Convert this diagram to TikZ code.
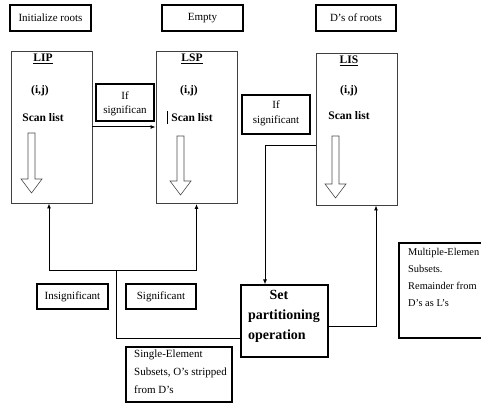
\documentclass[tikz,border=0pt]{standalone}
\usepackage{fontspec}
\setmainfont{Liberation Serif}
\usetikzlibrary{arrows.meta}
\begin{document}
\begin{tikzpicture}[x=1pt,y=-1pt,
  lbl/.style={draw,line width=1.1pt,inner sep=0,font=\fontsize{11}{13}\selectfont},
  lst/.style={draw=black!75,line width=0.8pt,inner sep=0,minimum width=81pt,minimum height=152pt},
  txt/.style={inner sep=0,anchor=base,font=\fontsize{11}{13}\selectfont},
  btxt/.style={inner sep=0,anchor=base,font=\fontsize{11.5}{13}\selectfont\bfseries},
  conn/.style={line width=1pt},
  arr/.style={conn,-{Latex[length=5pt,width=4pt]}},
  hollow/.style={draw=black!70,line width=0.6pt,fill=white}]
\newcommand\hollowarr[3]{\draw[hollow] (#1-3.5,#2) -- (#1+3.5,#2) -- (#1+3.5,#3-14) -- (#1+10.5,#3-14) -- (#1,#3) -- (#1-10.5,#3-14) -- (#1-3.5,#3-14) -- cycle;}
\useasboundingbox (0,0) rectangle (481,403);
\clip (0,0) rectangle (481,403);

% top labels
\node[lbl,minimum width=81pt,minimum height=26pt] (init) at (50.5,18) {Initialize roots};
\node[lbl,minimum width=81pt,minimum height=26pt] (empty) at (202.5,18) {Empty};
\node[lbl,minimum width=80pt,minimum height=26pt] (droots) at (356,18) {D's of roots};

% list boxes
\node[lst] (lip) at (51.5,127) {};
\node[lst] (lsp) at (196.5,127.5) {};
\node[lst] (lis) at (356.5,129) {};

\node[btxt] (lipt) at (43,62) {\underline{LIP}};
\node[btxt] (lipij) at (40,94) {(i,j)};
\node[btxt] (lipsc) at (43,122) {Scan list};
\hollowarr{31.5}{133}{193}

\node[btxt] (lspt) at (192,62) {\underline{LSP}};
\node[btxt] (lspij) at (189,94) {(i,j)};
\node[btxt] (lspsc) at (192,122) {Scan list};
\draw[line width=1pt] (167,111) -- (167,124);
\hollowarr{180.5}{136}{195}

\node[btxt] (list) at (349,64) {\underline{LIS}};
\node[btxt] (lisij) at (349,94) {(i,j)};
\node[btxt] (lissc) at (349,120) {Scan list};
\hollowarr{335.5}{136}{198}

% condition labels
\node[lbl,minimum width=58pt,minimum height=37pt] (if1) at (125,102.5) {};
\node[txt] at (125,100) {If};
\node[txt] at (125,114) {significan};
\node[lbl,minimum width=68pt,minimum height=39pt] (if2) at (276,114.5) {};
\node[txt] at (276,109) {If};
\node[txt] at (276,124) {significant};

\node[lbl,minimum width=71pt,minimum height=25pt] (insig) at (72.5,296.5) {Insignificant};
\node[lbl,minimum width=70pt,minimum height=25pt] (sig) at (161,296.5) {Significant};

% set partitioning
\node[lbl,minimum width=87pt,minimum height=72pt] (setp) at (284.5,321) {};
\node[inner sep=0,anchor=base,font=\fontsize{14}{16}\selectfont\bfseries] at (279,299) {Set};
\node[inner sep=0,anchor=base west,font=\fontsize{14}{16}\selectfont\bfseries] at (248,319) {partitioning};
\node[inner sep=0,anchor=base west,font=\fontsize{14}{16}\selectfont\bfseries] at (248,339) {operation};

% subsets notes
\node[lbl,minimum width=106pt,minimum height=55pt] (single) at (179,374.5) {};
\node[inner sep=0,anchor=north west,align=left,font=\fontsize{11}{18}\selectfont] at (134,350) {Single-Element\\Subsets, O's stripped\\from D's};
\node[lbl,minimum width=101pt,minimum height=95pt] (multi) at (449.5,290.5) {};
\node[inner sep=0,anchor=north west,align=left,font=\fontsize{10.4}{17}\selectfont] at (408,248) {Multiple-Elemen\\Subsets.\\Remainder from\\D's as L's};

% connectors
\draw[arr] (lip.east) -- (lip.east -| lsp.west);
\coordinate (j) at (116,270);
\draw[conn] ([yshift=-17pt]setp.west) -| (j);
\draw[arr] (j) -| ([xshift=-2.5pt]lip.south);
\draw[arr] (j) -| (lsp.south);
\draw[arr] ([yshift=-17pt]lis.west) -| ([xshift=-19.5pt]setp.north);
\draw[arr] ([yshift=-5pt]setp.east) -| ([xshift=19.5pt]lis.south);
\end{tikzpicture}
\end{document}
